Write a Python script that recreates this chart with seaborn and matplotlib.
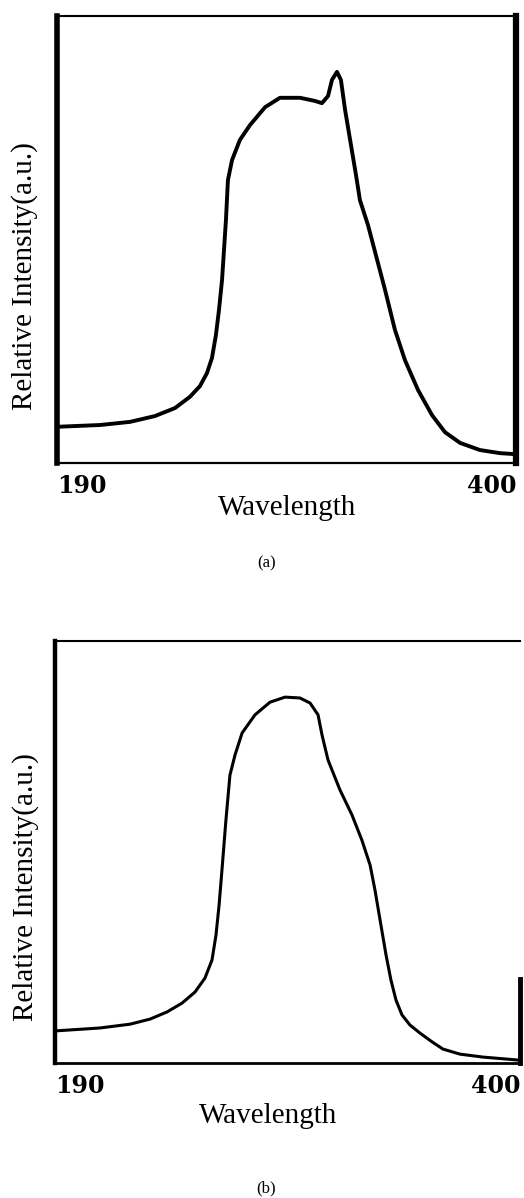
import matplotlib
matplotlib.use("Agg")
import matplotlib.pyplot as plt
import seaborn as sns
import pandas as pd

sns.set_style("white")
plt.rcParams['font.family'] = ['Liberation Serif', 'DejaVu Serif']
plt.rcParams['text.color'] = 'black'
plt.rcParams['xtick.color'] = 'black'
plt.rcParams['xtick.labelcolor'] = 'black'

# ---- data: panel (a) ----
wl_a = [190.0, 209.7, 223.4, 234.8, 244.0, 250.8, 255.4, 258.6, 260.9, 262.7,
        264.1, 265.5, 267.3, 268.2, 270.1, 273.7, 278.3, 285.2, 292.0, 301.2,
        308.0, 311.2, 314.0, 315.8, 318.1, 319.9, 321.8, 324.1, 326.8, 328.6,
        332.3, 335.9, 340.1, 344.6, 349.2, 355.2, 361.6, 367.5, 374.4, 383.5,
        392.7, 399.1]
int_a = [0.081, 0.085, 0.092, 0.105, 0.123, 0.148, 0.172, 0.201, 0.235, 0.286,
         0.342, 0.409, 0.544, 0.633, 0.678, 0.723, 0.756, 0.796, 0.817, 0.817,
         0.810, 0.805, 0.821, 0.857, 0.875, 0.857, 0.790, 0.723, 0.644, 0.588,
         0.532, 0.465, 0.387, 0.298, 0.230, 0.163, 0.107, 0.069, 0.045, 0.029,
         0.022, 0.020]

# ---- data: panel (b) ----
wl_b = [190.0, 210.3, 223.9, 232.9, 240.6, 247.4, 253.2, 257.7, 260.9, 262.7,
        264.1, 265.4, 267.2, 269.0, 271.3, 274.5, 280.3, 287.1, 293.9, 300.6,
        305.2, 308.8, 310.6, 313.3, 318.7, 324.1, 328.6, 332.3, 334.5, 336.8,
        339.5, 341.7, 344.0, 346.7, 350.3, 354.8, 360.3, 365.2, 372.9, 383.3,
        399.1]
int_b = [0.076, 0.083, 0.092, 0.104, 0.121, 0.142, 0.168, 0.201, 0.244, 0.303,
         0.374, 0.457, 0.576, 0.682, 0.730, 0.782, 0.825, 0.855, 0.867, 0.865,
         0.853, 0.825, 0.777, 0.718, 0.647, 0.588, 0.528, 0.469, 0.410, 0.339,
         0.256, 0.197, 0.149, 0.114, 0.090, 0.071, 0.050, 0.033, 0.021, 0.014,
         0.007]

tick_vals = [190, 400]
tick_labels = ["190", "400"]
x_label = "Wavelength"
y_label = "Relative Intensity(a.u.)"
panel_labels = ["(a)", "(b)"]

W, H = 524, 1198
fig = plt.figure(figsize=(W / 100, H / 100), dpi=100)
fig.patch.set_facecolor("white")

def box(l, t, r, b):
    return [l / W, 1 - b / H, (r - l) / W, (b - t) / H]

ax_a = fig.add_axes(box(57, 16, 516, 463))
ax_b = fig.add_axes(box(55, 641, 520, 1063))

df_a = pd.DataFrame({"wl": wl_a, "I": int_a})
df_b = pd.DataFrame({"wl": wl_b, "I": int_b})

sns.lineplot(data=df_a, x="wl", y="I", ax=ax_a, color="black", lw=2.8,
             solid_joinstyle="round", solid_capstyle="round")
sns.lineplot(data=df_b, x="wl", y="I", ax=ax_b, color="black", lw=2.2,
             solid_joinstyle="round", solid_capstyle="round")

for ax in (ax_a, ax_b):
    ax.set_xlim(190, 400)
    ax.set_ylim(0, 1)
    ax.set_yticks([])
    ax.set_xlabel("")
    ax.set_ylabel("")
    ax.set_xticks(tick_vals)
    ax.set_xticklabels(tick_labels, fontfamily="DejaVu Serif",
                       fontweight="bold", fontsize=17, color="black")
    labs = ax.get_xticklabels()
    labs[0].set_ha("left")
    labs[1].set_ha("right")
    ax.tick_params(axis="x", length=0, pad=8)
    for s in ax.spines.values():
        s.set_color("black")

# spines panel a
ax_a.spines["left"].set_linewidth(4.0)
ax_a.spines["right"].set_linewidth(4.5)
ax_a.spines["top"].set_linewidth(1.5)
ax_a.spines["bottom"].set_linewidth(1.6)
# spines panel b
ax_b.spines["left"].set_linewidth(3.2)
ax_b.spines["right"].set_linewidth(3.5)
ax_b.spines["right"].set_bounds(0, 0.2)
ax_b.spines["top"].set_linewidth(1.5)
ax_b.spines["bottom"].set_linewidth(2.0)

# axis titles and panel labels
fig.text(287 / W, 1 - 508 / H, x_label, ha="center", va="center", fontsize=21)
fig.text(268 / W, 1 - 1116 / H, x_label, ha="center", va="center", fontsize=21)
fig.text(25 / W, 1 - 276 / H, y_label, ha="center", va="center", fontsize=21,
         rotation=90)
fig.text(26 / W, 1 - 887 / H, y_label, ha="center", va="center", fontsize=21,
         rotation=90)
fig.text(267 / W, 1 - 563 / H, panel_labels[0], ha="center", va="center", fontsize=12)
fig.text(266 / W, 1 - 1188 / H, panel_labels[1], ha="center", va="center", fontsize=12)

fig.savefig("out.png", dpi=100, facecolor="white")
